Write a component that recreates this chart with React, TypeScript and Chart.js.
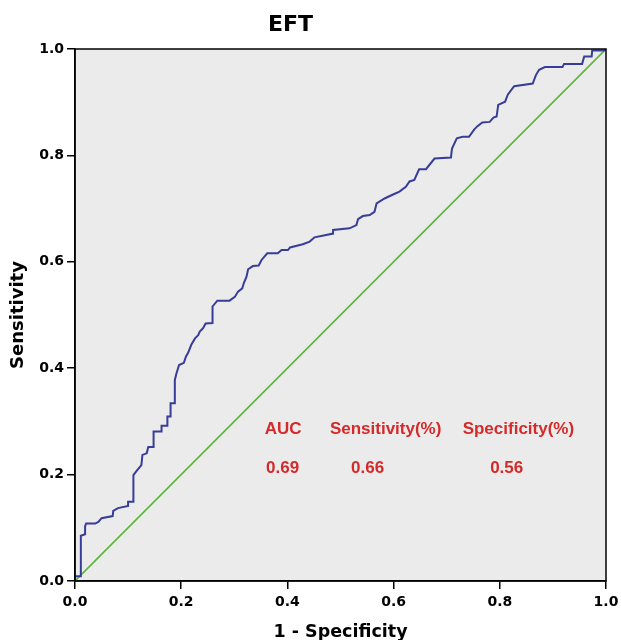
import React, { useEffect, useRef } from "react";
import { Chart, registerables } from "chart.js";

Chart.register(...registerables);

const chartTitle = "EFT";
const xAxisTitle = "1 - Specificity";
const yAxisTitle = "Sensitivity";

// ROC curve: 1 - specificity (x) and sensitivity (y)
const rocFpr = [
  0, 0, 0.011, 0.011, 0.019, 0.019, 0.021, 0.038, 0.044, 0.05, 0.071, 0.072, 0.081, 0.1, 0.1, 0.11, 0.11,
  0.116, 0.125, 0.127, 0.135, 0.138, 0.148, 0.148, 0.163, 0.163, 0.174, 0.174, 0.18, 0.18, 0.188, 0.188,
  0.191, 0.196, 0.205, 0.209, 0.213, 0.219, 0.226, 0.232, 0.235, 0.241, 0.246, 0.259, 0.259, 0.268, 0.291,
  0.301, 0.307, 0.315, 0.318, 0.323, 0.326, 0.335, 0.346, 0.351, 0.362, 0.382, 0.389, 0.401, 0.405, 0.429,
  0.442, 0.451, 0.486, 0.486, 0.517, 0.53, 0.533, 0.542, 0.555, 0.564, 0.568, 0.583, 0.598, 0.611, 0.623,
  0.63, 0.639, 0.648, 0.661, 0.677, 0.708, 0.71, 0.719, 0.73, 0.742, 0.752, 0.758, 0.767, 0.781, 0.788,
  0.794, 0.797, 0.81, 0.815, 0.827, 0.862, 0.868, 0.874, 0.885, 0.918, 0.921, 0.955, 0.959, 0.973, 0.974,
  0.996, 1.0,
];
const rocTpr = [
  0, 0.009, 0.009, 0.085, 0.088, 0.103, 0.108, 0.108, 0.111, 0.118, 0.122, 0.132, 0.137, 0.141, 0.149, 0.149,
  0.199, 0.207, 0.218, 0.237, 0.24, 0.252, 0.252, 0.281, 0.281, 0.292, 0.292, 0.309, 0.309, 0.334, 0.334,
  0.378, 0.39, 0.406, 0.41, 0.422, 0.429, 0.444, 0.456, 0.462, 0.469, 0.475, 0.484, 0.485, 0.516, 0.527,
  0.527, 0.534, 0.544, 0.55, 0.56, 0.572, 0.586, 0.592, 0.593, 0.603, 0.616, 0.616, 0.622, 0.622, 0.627,
  0.633, 0.638, 0.646, 0.653, 0.66, 0.663, 0.669, 0.68, 0.686, 0.688, 0.694, 0.71, 0.719, 0.726, 0.732,
  0.741, 0.751, 0.754, 0.774, 0.774, 0.794, 0.796, 0.813, 0.832, 0.835, 0.835, 0.849, 0.855, 0.862, 0.863,
  0.871, 0.873, 0.895, 0.901, 0.914, 0.93, 0.935, 0.951, 0.961, 0.966, 0.966, 0.972, 0.972, 0.986, 0.986,
  0.997, 0.997, 1.0,
];

// Reference diagonal
const refX = [0, 1];
const refY = [0, 1];

// Annotation table
const statHeaders = ["AUC", "Sensitivity(%)", "Specificity(%)"];
const statValues = ["0.69", "0.66", "0.56"];
const headerX = [0.392, 0.585, 0.835];
const valueX = [0.391, 0.551, 0.813];
const headerY = 0.286;
const valueY = 0.212;

const tickValues = [0, 0.2, 0.4, 0.6, 0.8, 1.0];

const FONT = "'DejaVu Sans', sans-serif";

export default function App() {
  const ref = useRef<HTMLCanvasElement | null>(null);

  useEffect(() => {
    if (!ref.current) return;

    const bgPlugin = {
      id: "plotBg",
      beforeDraw(chart: any) {
        const { ctx, chartArea: a } = chart;
        ctx.save();
        ctx.fillStyle = "#ffffff";
        ctx.fillRect(0, 0, chart.width, chart.height);
        ctx.fillStyle = "#ebebeb";
        ctx.fillRect(a.left, a.top, a.right - a.left, a.bottom - a.top);
        ctx.restore();
      },
      afterDraw(chart: any) {
        const { ctx, chartArea: a, scales } = chart;
        ctx.save();
        ctx.strokeStyle = "#000000";
        ctx.lineWidth = 1.5;
        ctx.strokeRect(a.left, a.top, a.right - a.left, a.bottom - a.top);

        // title
        ctx.fillStyle = "#000000";
        ctx.font = `bold 22px ${FONT}`;
        ctx.textAlign = "center";
        ctx.textBaseline = "middle";
        ctx.fillText(chartTitle, 290.5, 25.5);

        // annotation table
        ctx.fillStyle = "#d42a2a";
        ctx.font = "bold 17px 'Liberation Sans', Arial, sans-serif";
        statHeaders.forEach((t, i) => {
          ctx.fillText(t, scales.x.getPixelForValue(headerX[i]), scales.y.getPixelForValue(headerY));
        });
        statValues.forEach((t, i) => {
          ctx.fillText(t, scales.x.getPixelForValue(valueX[i]), scales.y.getPixelForValue(valueY));
        });
        ctx.restore();
      },
    };

    const chart = new Chart(ref.current, {
      type: "scatter",
      data: {
        datasets: [
          {
            label: "Reference",
            data: refX.map((x, i) => ({ x, y: refY[i] })),
            showLine: true,
            borderColor: "#5db53c",
            borderWidth: 1.6,
            pointRadius: 0,
            order: 2,
          },
          {
            label: "EFT",
            data: rocFpr.map((x, i) => ({ x, y: rocTpr[i] })),
            showLine: true,
            borderColor: "#373d98",
            borderWidth: 2,
            pointRadius: 0,
            tension: 0,
            order: 1,
          },
        ],
      },
      options: {
        animation: false,
        responsive: false,
        events: [],
        layout: { padding: { left: 0, top: 49, right: 15, bottom: 0 } },
        plugins: {
          legend: { display: false },
          tooltip: { enabled: false },
          title: { display: false },
        },
        scales: {
          x: {
            type: "linear",
            min: 0,
            max: 1,
            afterFit: (s: any) => {
              s.height = 59;
              s.paddingLeft = 0;
              s.paddingRight = 0;
            },
            afterBuildTicks: (s: any) => {
              s.ticks = tickValues.map((v) => ({ value: v }));
            },
            ticks: {
              color: "#000000",
              font: { family: FONT, size: 14, weight: "bold" },
              padding: 5,
              maxRotation: 0,
              callback: (v: any) => Number(v).toFixed(1),
            },
            grid: {
              drawOnChartArea: false,
              drawTicks: true,
              tickLength: 8,
              color: "#000000",
              lineWidth: 1.5,
            },
            border: { display: true, color: "#000000", width: 1.5 },
            title: {
              display: true,
              text: xAxisTitle,
              color: "#000000",
              font: { family: FONT, size: 17.5, weight: "bold" },
              padding: { top: 0, bottom: -3 },
            },
          },
          y: {
            type: "linear",
            min: 0,
            max: 1,
            afterFit: (s: any) => {
              s.width = 75;
              s.paddingTop = 0;
              s.paddingBottom = 0;
            },
            afterBuildTicks: (s: any) => {
              s.ticks = tickValues.map((v) => ({ value: v }));
            },
            ticks: {
              color: "#000000",
              font: { family: FONT, size: 14, weight: "bold" },
              padding: 3,
              callback: (v: any) => Number(v).toFixed(1),
            },
            grid: {
              drawOnChartArea: false,
              drawTicks: true,
              tickLength: 8,
              color: "#000000",
              lineWidth: 1.5,
            },
            border: { display: true, color: "#000000", width: 1.5 },
            title: {
              display: true,
              text: yAxisTitle,
              color: "#000000",
              font: { family: FONT, size: 18, weight: "bold" },
              padding: { top: 8, bottom: 0 },
            },
          },
        },
      },
      plugins: [bgPlugin],
    } as any);

    return () => chart.destroy();
  }, []);

  return (
    <div style={{ position: "fixed", left: 0, top: 0, width: 621, height: 640, background: "#fff" }}>
      <canvas ref={ref} width={621} height={640} style={{ display: "block", width: 621, height: 640 }} />
    </div>
  );
}
